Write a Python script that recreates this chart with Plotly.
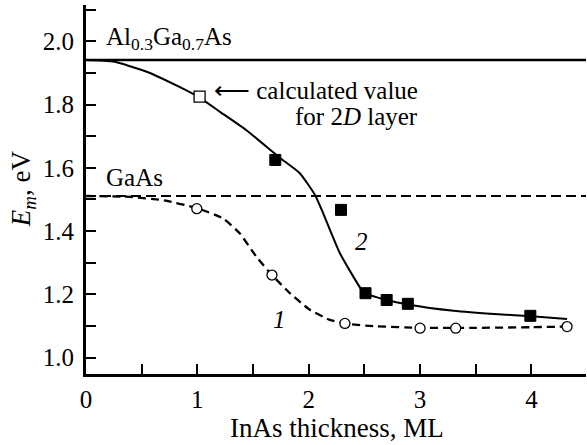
import plotly.graph_objects as go

# ---- data ----
algaas_level = 1.941
gaas_level = 1.511

curve2_x = [0, 0.245, 0.545, 0.844, 1.02, 1.2, 1.44, 1.74, 1.92, 2.06, 2.13, 2.28, 2.475, 2.51, 2.7, 2.9, 3.3, 3.7, 4.0, 4.32]
curve2_y = [1.941, 1.936, 1.904, 1.855, 1.822, 1.778, 1.719, 1.632, 1.583, 1.512, 1.456, 1.33, 1.214, 1.203, 1.182, 1.167, 1.148, 1.137, 1.131, 1.122]

curve1_x = [0, 0.4, 0.7, 1.0, 1.23, 1.38, 1.53, 1.67, 1.83, 2.01, 2.19, 2.33, 2.6, 3.0, 3.5, 4.0, 4.32]
curve1_y = [1.511, 1.508, 1.497, 1.472, 1.44, 1.393, 1.319, 1.261, 1.204, 1.151, 1.119, 1.107, 1.099, 1.094, 1.094, 1.096, 1.098]

calc_x = [1.02]
calc_y = [1.825]

sq_x = [1.70, 2.29, 2.51, 2.70, 2.89, 3.99]
sq_y = [1.625, 1.467, 1.2035, 1.182, 1.170, 1.132]

circ_x = [0.995, 1.67, 2.325, 3.0, 3.32, 4.32]
circ_y = [1.471, 1.261, 1.108, 1.093, 1.093, 1.098]

x_range = [0, 4.49]
y_range = [0.948, 2.115]

FONT = "Liberation Serif"
FS = 25

fig = go.Figure()

fig.add_hline(y=algaas_level, line=dict(color="black", width=2.7))
fig.add_hline(y=gaas_level, line=dict(color="black", width=2.2, dash="10px,5px"))

fig.add_trace(go.Scatter(x=curve2_x, y=curve2_y, mode="lines",
                         line=dict(color="black", width=2, shape="spline", smoothing=0.5),
                         hoverinfo="skip"))
fig.add_trace(go.Scatter(x=curve1_x, y=curve1_y, mode="lines",
                         line=dict(color="black", width=2.3, dash="8px,5px", shape="spline", smoothing=0.5),
                         hoverinfo="skip"))
fig.add_trace(go.Scatter(x=calc_x, y=calc_y, mode="markers",
                         marker=dict(symbol="square", size=11, color="white",
                                     line=dict(color="black", width=1.3))))
fig.add_trace(go.Scatter(x=sq_x, y=sq_y, mode="markers",
                         marker=dict(symbol="square", size=11, color="black",
                                     line=dict(color="black", width=1))))
fig.add_trace(go.Scatter(x=circ_x, y=circ_y, mode="markers",
                         marker=dict(symbol="circle", size=10, color="white",
                                     line=dict(color="black", width=1.3))))

def ann(x, y, text, xanchor="left", size=FS):
    fig.add_annotation(x=x, y=y, text=text, showarrow=False, xanchor=xanchor,
                       yanchor="middle", font=dict(family=FONT, size=size, color="black"))

ann(0.165, 2.01, "Al<sub>0.3</sub>Ga<sub>0.7</sub>As")
ann(0.165, 1.568, "GaAs")
ann(3.0, 1.845, "⟵ calculated value", xanchor="right")
ann(3.0, 1.762, "for 2<i>D</i> layer", xanchor="right")
ann(1.74, 1.12, "<i>1</i>", xanchor="center")
ann(2.475, 1.367, "<i>2</i>", xanchor="center")

# axis titles
fig.add_annotation(xref="paper", yref="paper", x=0.502, y=-0.146, text="InAs thickness, ML",
                   showarrow=False, xanchor="center", yanchor="middle",
                   font=dict(family=FONT, size=27, color="black"))
fig.add_annotation(xref="paper", yref="paper", x=-0.126, y=0.501, text="<i>E<sub>m</sub></i>, eV",
                   showarrow=False, xanchor="center", yanchor="middle", textangle=-90,
                   font=dict(family=FONT, size=27, color="black"))

axis_common = dict(showgrid=False, zeroline=False, showline=True, linecolor="black",
                   linewidth=3, ticks="inside", ticklen=10, tickwidth=2, tickcolor="black",
                   automargin=False,
                   tickfont=dict(family=FONT, size=FS, color="black"))

fig.update_xaxes(range=x_range, dtick=1, tick0=0,
                 minor=dict(dtick=0.5, ticks="inside", ticklen=10, tickwidth=2, tickcolor="black"),
                 ticklabelstandoff=1, **axis_common)
fig.update_yaxes(range=y_range, dtick=0.2, tick0=0, tickformat=".1f",
                 minor=dict(dtick=0.1, ticks="inside", ticklen=10, tickwidth=2, tickcolor="black"),
                 ticklabelstandoff=4, **axis_common)

fig.update_layout(width=587, height=445, margin=dict(l=86, r=1, t=5, b=71),
                  font=dict(family=FONT, size=FS, color="black"),
                  plot_bgcolor="white", paper_bgcolor="white", showlegend=False)

fig.write_html("out.html", config={"displayModeBar": False},
               post_script="document.body.style.margin='0';")
